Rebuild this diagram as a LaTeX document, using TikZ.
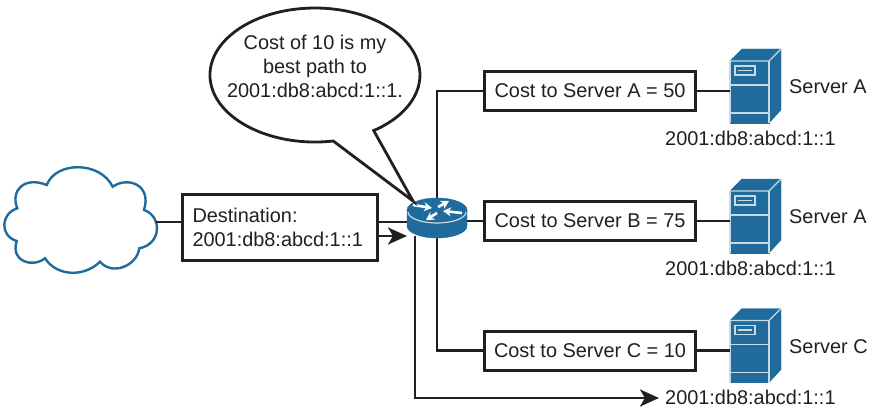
\documentclass[tikz,border=0pt]{standalone}
\usepackage{fontspec}
\setmainfont{Liberation Sans}
\usetikzlibrary{arrows.meta}
\definecolor{ciscoblue}{HTML}{1F6B9C}
\definecolor{inkblack}{HTML}{231F20}
\tikzset{
  wire/.style={draw=inkblack,line width=2.8pt},
  pointer/.style={wire,-{Stealth[length=19pt,width=17pt,inset=5pt]}},
  costbox/.style={draw=inkblack,line width=3pt,fill=white,text=inkblack,minimum width=211pt,minimum height=39pt,inner sep=0pt},
  label/.style={text=inkblack,inner sep=0pt},
  facet/.style={fill=ciscoblue,draw=ciscoblue,line join=round},
  trim/.style={draw=white!75!ciscoblue,line width=1.2pt},
  routerarrow/.style={draw=white,line width=2.6pt,-{Stealth[length=8pt,width=9pt]}}
}
\begin{document}
\begin{tikzpicture}[x=1pt,y=-1pt,font=\fontsize{19.9}{24}\selectfont]
  \useasboundingbox (0,0) rectangle (870,409);

  \coordinate (routerN) at (437,198);
  \coordinate (routerE) at (467,221);
  \coordinate (routerW) at (407,222);
  \coordinate (routerS) at (437,238);
  \coordinate (routerSW) at (415,236);
  \coordinate (routerArrow) at (407,236);
  \coordinate (bubbleBase) at (333.2,141);
  \coordinate (bubbleTip) at (413,201);
  \coordinate (cornerA) at (437,91);
  \coordinate (cornerC) at (437,350.5);
  \coordinate (cornerExit) at (415,398);
  \coordinate (exitTip) at (659,398);
  \coordinate (cloudE) at (156,222);

  % cloud
  \draw[draw=ciscoblue,line width=2.4pt,fill=white]
    (46.7,185) .. controls (56,161) and (100,161) .. (112.7,186.7)
    .. controls (128,176) and (152,185) .. (144,210)
    .. controls (162,216) and (162,244) .. (139.3,248.3)
    .. controls (137,266) and (112,276) .. (100,261.7)
    .. controls (85,277) and (57,277) .. (45,258.3)
    .. controls (33,268) and (10,262) .. (16.7,241)
    .. controls (0,236) and (0,214) .. (17.3,208.3)
    .. controls (10,190) and (25,176) .. (46.7,185) -- cycle;

  % boxes
  \node[costbox,minimum width=195pt,minimum height=66pt,align=left,text width=174pt] (dest) at (279.5,227)
    {Destination:\\2001:db8:abcd:1::1};
  \node[costbox] (costA) at (590,91) {Cost to Server A = 50};
  \node[costbox] (costB) at (590,221) {Cost to Server B = 75};
  \node[costbox] (costC) at (590,350.5) {Cost to Server C = 10};

  % connectors
  \draw[wire] (cloudE) -- (cloudE -| dest.west);
  \draw[wire] (dest.east |- routerW) -- (routerW);
  \draw[pointer] (dest.east |- routerArrow) -- (routerArrow);
  \draw[wire] (routerN) -- (cornerA) -- (costA.west);
  \draw[wire] (routerE) -- (costB.west);
  \draw[wire] (routerS) -- (cornerC) -- (costC.west);
  \draw[pointer] (routerSW) -- (cornerExit) -- (exitTip);

  % router
  \path[facet] (407,210) -- (407,226) arc[start angle=180,end angle=360,x radius=30,y radius=-12] -- (467,210) -- cycle;
  \path[facet] (437,210) ellipse[x radius=30,y radius=12];
  \draw[trim] (408,212) arc[start angle=180,end angle=360,x radius=29,y radius=-11];
  \draw[routerarrow] (413,205) -- (432,208);
  \draw[routerarrow] (438,207) -- (449,201);
  \draw[routerarrow] (462,213) -- (443,211);
  \draw[routerarrow] (437,213) -- (426,220);

  % servers
  \foreach \row/\offset/\name/\cost in {A/0/Server A/costA,B/130/Server A/costB,C/259.5/Server C/costC}{
    \begin{scope}[yshift=-\offset pt]
      \coordinate (server\row) at (730,91);
      \path[facet] (730,61) -- (742,49) -- (781,49) -- (781,110) -- (769,123) -- (769,61) -- cycle;
      \path[facet] (730,61) rectangle (769,123);
      \draw[trim] (730,61) -- (769,61) -- (781,49);
      \draw[trim] (730,61) -- (730,123);
      \draw[trim] (769,61) -- (769,123);
      \draw[trim] (730,85) -- (769,85);
      \draw[trim] (730,113) -- (769,113);
      \draw[trim] (735,66) rectangle (755,75);
      \draw[trim] (738,70.5) -- (752,70.5);
      \node[label,anchor=west] (name\row) at (789,87) {\name};
      \node[label,anchor=west] (addr\row) at (665,138) {2001:db8:abcd:1::1};
    \end{scope}
    \draw[wire] (\cost.east) -- (server\row);
  }

  % bubble
  \draw[wire,fill=white,line join=miter] (bubbleBase) arc[start angle=80,end angle=416,x radius=105,y radius=67] -- (bubbleTip) -- cycle;
  \node[label,align=center] (bubbleText) at (315,66) {Cost of 10 is my\\best path to\\2001:db8:abcd:1::1.};
\end{tikzpicture}
\end{document}
